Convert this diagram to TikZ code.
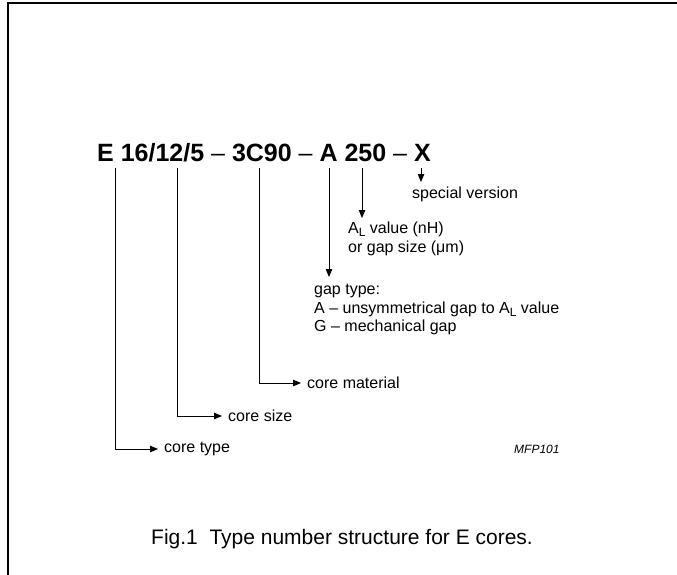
\documentclass[tikz,border=0pt]{standalone}
\usepackage{fontspec}
\setmainfont{Liberation Sans}
\usetikzlibrary{arrows.meta}
\newcommand\lowsub[1]{\raisebox{-0.35ex}{\fontsize{12}{12}\selectfont #1}}
\begin{document}
\begin{tikzpicture}[x=1pt,y=-1pt,
  ttl/.style={font=\fontsize{25}{28}\selectfont\bfseries, inner sep=0pt, anchor=base west},
  lbl/.style={font=\fontsize{16}{18}\selectfont, inner sep=0pt, anchor=west, align=left},
  mlbl/.style={font=\fontsize{16}{18.5}\selectfont, inner sep=0pt, anchor=north west, align=left},
  con/.style={line width=1pt, -{Triangle[length=8pt,width=6.5pt]}},
  frame/.style={line width=2.2pt}]
\useasboundingbox (0,0) rectangle (677,575);
\draw[frame] (8,575) -- (8,3) -- (677,3);

% title
\node[ttl] (title) at (97,161) {E 16/12/5 \textmd{–} 3C90 \textmd{–} A 250 \textmd{–} X};

% line starts
\coordinate (s1) at (115,168);
\coordinate (s2) at (177,168);
\coordinate (s3) at (259,168);
\coordinate (s4) at (329,168);
\coordinate (s5) at (362,168);
\coordinate (s6) at (421,168);

% labels
\node[lbl]  (sv)  at (412,194) {special version};
\node[mlbl] (al)  at (348,222) {A\lowsub{L} value (nH)\\or gap size (μm)};
\node[mlbl] (gt)  at (314,284) {gap type:\\A – unsymmetrical gap to A\lowsub{L} value\\G – mechanical gap};
\node[lbl]  (cm)  at (307,383) {core material};
\node[lbl]  (cs)  at (228,416) {core size};
\node[lbl]  (ctp) at (164,449) {core type};
\node[font=\fontsize{12}{14}\selectfont\itshape, inner sep=0pt, anchor=west] (mfp) at (514,449) {MFP101};
\node[font=\fontsize{21}{24}\selectfont, inner sep=0pt] (cap) at (342,539) {Fig.1\ \ Type number structure for E cores.};

% arrow tips
\coordinate (e6) at (421,182);
\coordinate (e5) at (362,218);
\coordinate (e4) at (329,277);

% connectors
\draw[con] (s6) -- (e6);
\draw[con] (s5) -- (e5);
\draw[con] (s4) -- (e4);
\draw[con, shorten >=6pt] (s3) |- (cm.west);
\draw[con, shorten >=6pt] (s2) |- (cs.west);
\draw[con, shorten >=6pt] (s1) |- (ctp.west);
\end{tikzpicture}
\end{document}
